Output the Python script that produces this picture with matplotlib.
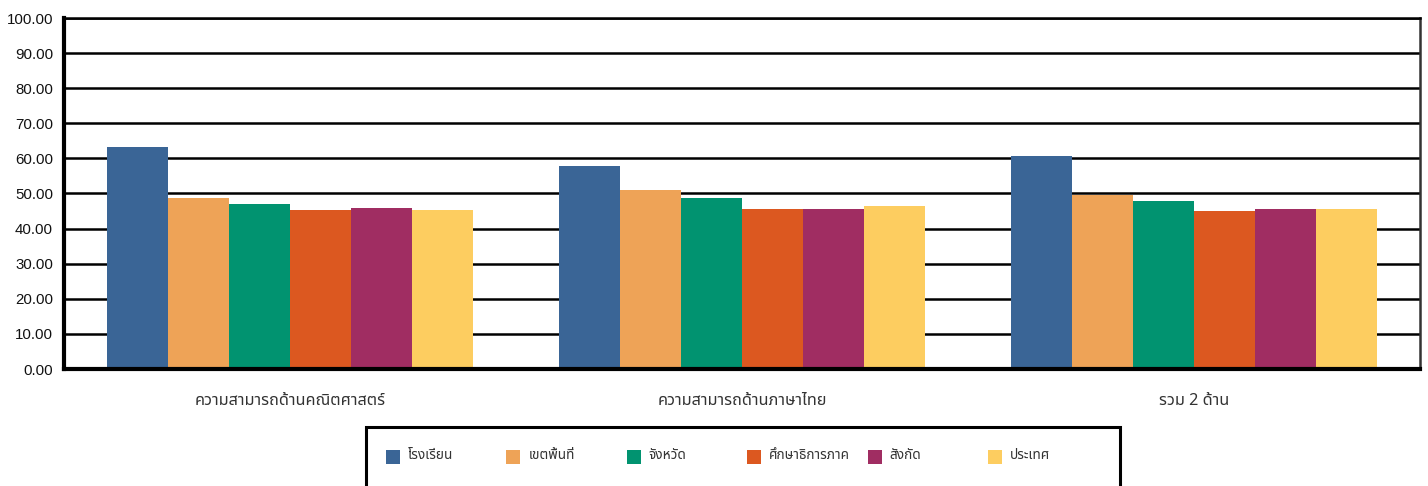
import matplotlib
matplotlib.use("Agg")
import matplotlib.pyplot as plt
from matplotlib import font_manager
from matplotlib.patches import Rectangle
import numpy as np

categories = ["ความสามารถด้านคณิตศาสตร์", "ความสามารถด้านภาษาไทย", "รวม 2 ด้าน"]
series = ["โรงเรียน", "เขตพื้นที่", "จังหวัด", "ศึกษาธิการภาค", "สังกัด", "ประเทศ"]
values = [
    [63.3, 57.7, 60.6],  # โรงเรียน
    [48.6, 50.9, 49.7],  # เขตพื้นที่
    [46.9, 48.6, 48.0],  # จังหวัด
    [45.2, 45.7, 45.1],  # ศึกษาธิการภาค
    [45.8, 45.7, 45.7],  # สังกัด
    [45.2, 46.3, 45.7],  # ประเทศ
]
colors = ["#3A6596", "#EEA357", "#019370", "#DC5820", "#A02D62", "#FDCD60"]
yticks = np.arange(0, 101, 10)

available = {f.name for f in font_manager.fontManager.ttflist}
thai_font = next((name for name in ["Noto Sans Thai", "Sarabun", "Noto Sans Thai Looped",
                                    "Prompt", "Athiti"] if name in available), "DejaVu Sans")
thai = [thai_font, "DejaVu Sans"]

plt.rcParams['font.family'] = ["Liberation Sans", "DejaVu Sans"]

figure = plt.figure(figsize=(14.28, 4.86), dpi=100)
axes = figure.add_axes([64 / 1428, 1 - 369 / 486, (1420 - 64) / 1428, (369 - 18) / 486])

x = np.arange(len(categories))
width = 0.135
for i, (name, vals, color) in enumerate(zip(series, values, colors)):
    axes.bar(x + (i - 2.5) * width, vals, width, color=color, zorder=3, label=name)

axes.set_xlim(-0.5, len(categories) - 0.5)
axes.set_ylim(0, 100)
axes.set_yticks(yticks)
axes.set_yticklabels([f"{v:.2f}" for v in yticks], fontsize=10.8, color="#111111")
axes.tick_params(axis='y', length=0, pad=8)
axes.tick_params(axis='x', length=0, pad=17)
axes.set_xticks(x)
axes.set_xticklabels(categories, family=thai, fontsize=11.7, color="#333333")
axes.yaxis.grid(True, color="black", linewidth=1.8, zorder=0)
axes.set_axisbelow(True)

axes.spines['left'].set_linewidth(3)
axes.spines['bottom'].set_linewidth(3)
axes.spines['right'].set_linewidth(1.8)
axes.spines['right'].set_color("#333333")
axes.spines['top'].set_linewidth(1.8)
for s in axes.spines.values():
    s.set_zorder(4)

# legend box, laid out like the source chart (evenly spaced entries)
W, H = 1428.0, 486.0
figure.add_artist(Rectangle((366 / W, -0.05), (1120 - 366) / W, 0.05 + (486 - 427) / H,
                            transform=figure.transFigure, fill=False,
                            edgecolor="black", linewidth=2.2, clip_on=False))
for i, (name, color) in enumerate(zip(series, colors)):
    left = 386 + i * 120.4
    figure.add_artist(Rectangle((left / W, 1 - 464 / H), 14 / W, 14 / H,
                                transform=figure.transFigure, facecolor=color,
                                edgecolor="none"))
    figure.text((left + 22) / W, 1 - 455 / H, name, family=thai, fontsize=9.8,
                color="#333333", va='center', ha='left')

figure.savefig("out.png", dpi=100)
